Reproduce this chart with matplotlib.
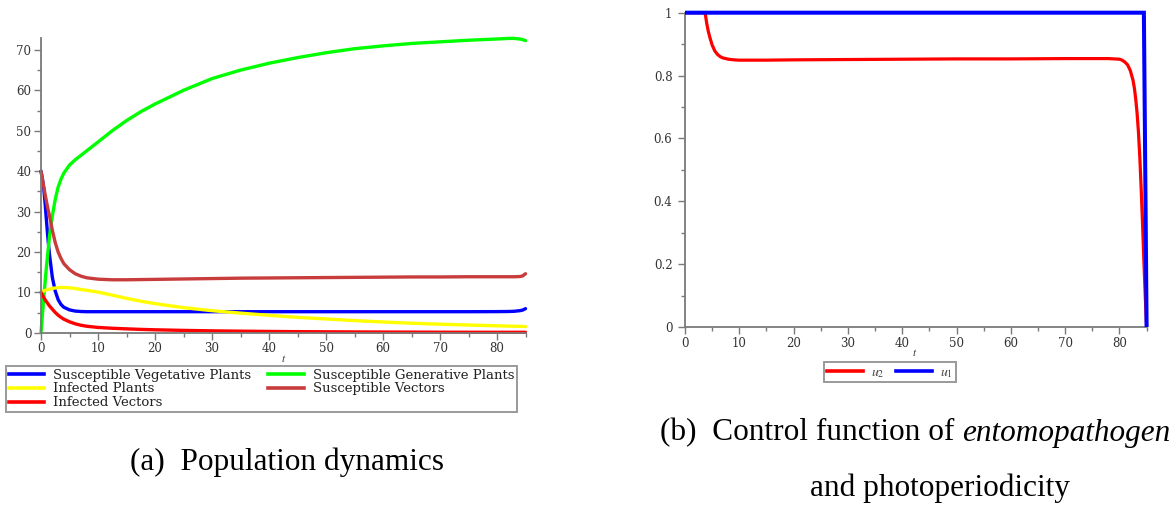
import matplotlib
matplotlib.use("Agg")
import matplotlib.pyplot as plt
from matplotlib.lines import Line2D
from matplotlib.ticker import MultipleLocator, FixedLocator, FixedFormatter

# ---------------- data ----------------
t_pop = [0, 0.25, 0.5, 0.75, 1, 1.25, 1.5, 2, 2.5, 3, 3.5, 4, 5, 6, 7, 8, 10,
         12.5, 15, 17.5, 20, 25, 30, 35, 40, 45, 50, 55, 60, 65, 70, 75, 80,
         82, 83, 84, 84.5, 85]

susc_vegetative = [40, 38, 35.5, 31.5, 27, 22.8, 19.2, 13.6, 10.3, 8.2, 7.0, 6.3,
                   5.65, 5.35, 5.25, 5.2, 5.2, 5.2, 5.2, 5.2, 5.2, 5.2, 5.2, 5.2,
                   5.2, 5.2, 5.2, 5.2, 5.2, 5.2, 5.2, 5.2, 5.22, 5.25, 5.3, 5.45,
                   5.6, 5.95]

susc_generative = [0, 4.5, 9, 13, 17, 20.5, 24, 29, 33, 36, 38, 39.5, 41.5, 42.8,
                   43.9, 45, 47.2, 50, 52.5, 54.7, 56.6, 60, 62.9, 65, 66.7, 68.1,
                   69.3, 70.3, 71.0, 71.6, 72.0, 72.4, 72.7, 72.85, 72.85, 72.7,
                   72.55, 72.3]

infected_plants = [10, 10.2, 10.35, 10.5, 10.6, 10.7, 10.8, 10.95, 11.07, 11.15,
                   11.2, 11.2, 11.1, 10.95, 10.7, 10.5, 10.05, 9.3, 8.5, 7.8, 7.2,
                   6.2, 5.45, 4.85, 4.3, 3.8, 3.4, 3.0, 2.65, 2.35, 2.1, 1.9, 1.7,
                   1.63, 1.6, 1.56, 1.54, 1.52]

susc_vectors = [40, 38, 36, 34, 32.2, 30.4, 28.9, 25.3, 22.3, 20, 18.4, 17.1, 15.6,
                14.6, 14.0, 13.6, 13.25, 13.1, 13.1, 13.15, 13.2, 13.3, 13.4, 13.5,
                13.55, 13.6, 13.65, 13.7, 13.75, 13.8, 13.8, 13.85, 13.85, 13.85,
                13.85, 13.9, 14.05, 14.6]

infected_vectors = [10, 9.3, 8.7, 8.1, 7.6, 7.1, 6.6, 5.8, 5.0, 4.35, 3.8, 3.35,
                    2.7, 2.2, 1.85, 1.6, 1.3, 1.1, 0.95, 0.82, 0.72, 0.57, 0.46,
                    0.38, 0.31, 0.26, 0.22, 0.19, 0.16, 0.14, 0.12, 0.11, 0.1, 0.1,
                    0.1, 0.1, 0.1, 0.1]

pop_labels = ["Susceptible Vegetative Plants", "Susceptible Generative Plants",
              "Infected Plants", "Susceptible Vectors", "Infected Vectors"]

t_u1 = [0, 84.5, 85]
u1 = [1, 1, 0]

t_u2 = [0, 3.7, 4.0, 4.3, 4.6, 5.0, 5.5, 6.0, 6.5, 7.0, 8.0, 9.0, 10, 15, 20, 30,
        40, 50, 60, 70, 75, 78, 80, 80.5, 81, 81.5, 82, 82.5, 82.75, 83, 83.25,
        83.5, 83.75, 84, 84.25, 84.5, 84.75, 85]
u2 = [1, 1, 0.966, 0.94, 0.92, 0.897, 0.878, 0.867, 0.86, 0.856, 0.852, 0.85,
      0.849, 0.849, 0.85, 0.851, 0.852, 0.853, 0.853, 0.854, 0.854, 0.854, 0.852,
      0.849, 0.843, 0.834, 0.816, 0.785, 0.76, 0.725, 0.68, 0.62, 0.54, 0.44,
      0.33, 0.21, 0.1, 0.0]

ctrl_yticks = [0, 0.2, 0.4, 0.6, 0.8, 1]
ctrl_yticklabels = ["0", "0.2", "0.4", "0.6", "0.8", "1"]

# ---------------- style ----------------
plt.rcParams["font.family"] = "DejaVu Serif"
plt.rcParams["mathtext.fontset"] = "stix"

W, H = 1176, 505
fig = plt.figure(figsize=(W / 100, H / 100), dpi=100)
fig.patch.set_facecolor("white")


def box(l, t, r, b):
    return [l / W, 1 - b / H, (r - l) / W, (b - t) / H]


def fx(x):
    return x / W


def fy(y):
    return 1 - y / H


AXIS_GRAY = "#7a7a7a"
TICK_TXT = "#333333"
BLUE, GREEN, YELLOW, RED, BROWN = "#0000FF", "#00FF00", "#FFFF00", "#FF0000", "#C83C3C"


def style_axes(ax):
    for s in ("top", "right"):
        ax.spines[s].set_visible(False)
    for s in ("left", "bottom"):
        ax.spines[s].set_color(AXIS_GRAY)
        ax.spines[s].set_linewidth(1.3)
    ax.tick_params(which="major", length=5, width=1, color=AXIS_GRAY,
                   labelsize=8.5, labelcolor=TICK_TXT, pad=2)
    ax.tick_params(which="minor", length=3, width=1, color=AXIS_GRAY)


# ---------------- (a) population dynamics ----------------
ax1 = fig.add_axes(box(41, 37.8, 525.5, 332.7))
lw = 2.4
series = [(susc_vegetative, BLUE), (susc_generative, GREEN),
          (infected_plants, YELLOW), (susc_vectors, BROWN),
          (infected_vectors, RED)]
for vals, col in series:
    ax1.plot(t_pop, vals, color=col, lw=lw, clip_on=False,
             solid_capstyle="round", solid_joinstyle="round")
ax1.set_xlim(0, 85)
ax1.set_ylim(0, 73)
ax1.xaxis.set_major_locator(MultipleLocator(10))
ax1.xaxis.set_minor_locator(MultipleLocator(5))
ax1.yaxis.set_major_locator(MultipleLocator(10))
ax1.yaxis.set_minor_locator(MultipleLocator(5))
style_axes(ax1)
fig.text(fx(284), fy(358), "$t$", ha="center", va="center", fontsize=8,
         color=TICK_TXT)

handles = [Line2D([], [], color=c, lw=2.6) for _, c in series]
order = [0, 2, 4, 1, 3]
leg1 = fig.legend([handles[i] for i in order], [pop_labels[i] for i in order],
                  loc="upper left",
                  bbox_to_anchor=(fx(6), fy(410), fx(517) - fx(6), fy(366) - fy(410)),
                  mode="expand", ncol=2, fontsize=9.5, frameon=True,
                  fancybox=False, edgecolor="#808080", borderpad=0.2,
                  labelspacing=0.06, handlelength=2.7, handletextpad=0.68,
                  borderaxespad=0, columnspacing=1.0)
leg1.get_frame().set_linewidth(1.4)
for txt in leg1.get_texts():
    txt.set_color("#222222")

fig.text(fx(287), fy(462), "(a)  Population dynamics", ha="center", va="center",
         fontsize=22.5, family="Liberation Serif", color="black")

# ---------------- (b) control functions ----------------
ax2 = fig.add_axes(box(685, 12.7, 1146.6, 327))
ax2.plot(t_u2, u2, color=RED, lw=2.3, clip_on=False,
         solid_capstyle="butt", solid_joinstyle="round", zorder=3)
ax2.plot(t_u1, u1, color=BLUE, lw=2.9, clip_on=False,
         solid_capstyle="butt", solid_joinstyle="miter", zorder=4)
ax2.set_xlim(0, 85)
ax2.set_ylim(0, 1)
ax2.xaxis.set_major_locator(MultipleLocator(10))
ax2.xaxis.set_minor_locator(MultipleLocator(5))
ax2.yaxis.set_major_locator(FixedLocator(ctrl_yticks))
ax2.yaxis.set_major_formatter(FixedFormatter(ctrl_yticklabels))
ax2.yaxis.set_minor_locator(MultipleLocator(0.1))
style_axes(ax2)
ax2.tick_params(axis="y", which="major", pad=4)
fig.text(fx(915), fy(353), "$t$", ha="center", va="center", fontsize=8,
         color=TICK_TXT)

leg2 = fig.legend([Line2D([], [], color=RED, lw=2.6), Line2D([], [], color=BLUE, lw=2.6)],
                  ["$u_2$", "$u_1$"], loc="upper left",
                  bbox_to_anchor=(fx(824), fy(362)), ncol=2, fontsize=10,
                  frameon=True, fancybox=False, edgecolor="#808080",
                  borderpad=0.2, handlelength=2.6, handletextpad=0.6,
                  borderaxespad=0, columnspacing=0.8)
leg2.get_frame().set_linewidth(1.4)
for txt in leg2.get_texts():
    txt.set_color("#444444")

fig.text(fx(660), fy(433), "(b)  Control function of ", ha="left", va="center",
         fontsize=22.5, family="Liberation Serif", color="black")
fig.text(fx(940), fy(488), "and photoperiodicity", ha="center", va="center",
         fontsize=22.5, family="Liberation Serif", color="black")

# italic word placed right after the upright part of the first caption line
fig.canvas.draw()
renderer = fig.canvas.get_renderer()
first = [t for t in fig.texts if t.get_text().startswith("(b)")][0]
bb = first.get_window_extent(renderer)
fig.text(bb.x1 / W, fy(433), "entomopathogen", ha="left", va="center",
         fontsize=22.5, family="Liberation Serif", style="italic", color="black")

fig.savefig("out.png", dpi=100, facecolor="white")
